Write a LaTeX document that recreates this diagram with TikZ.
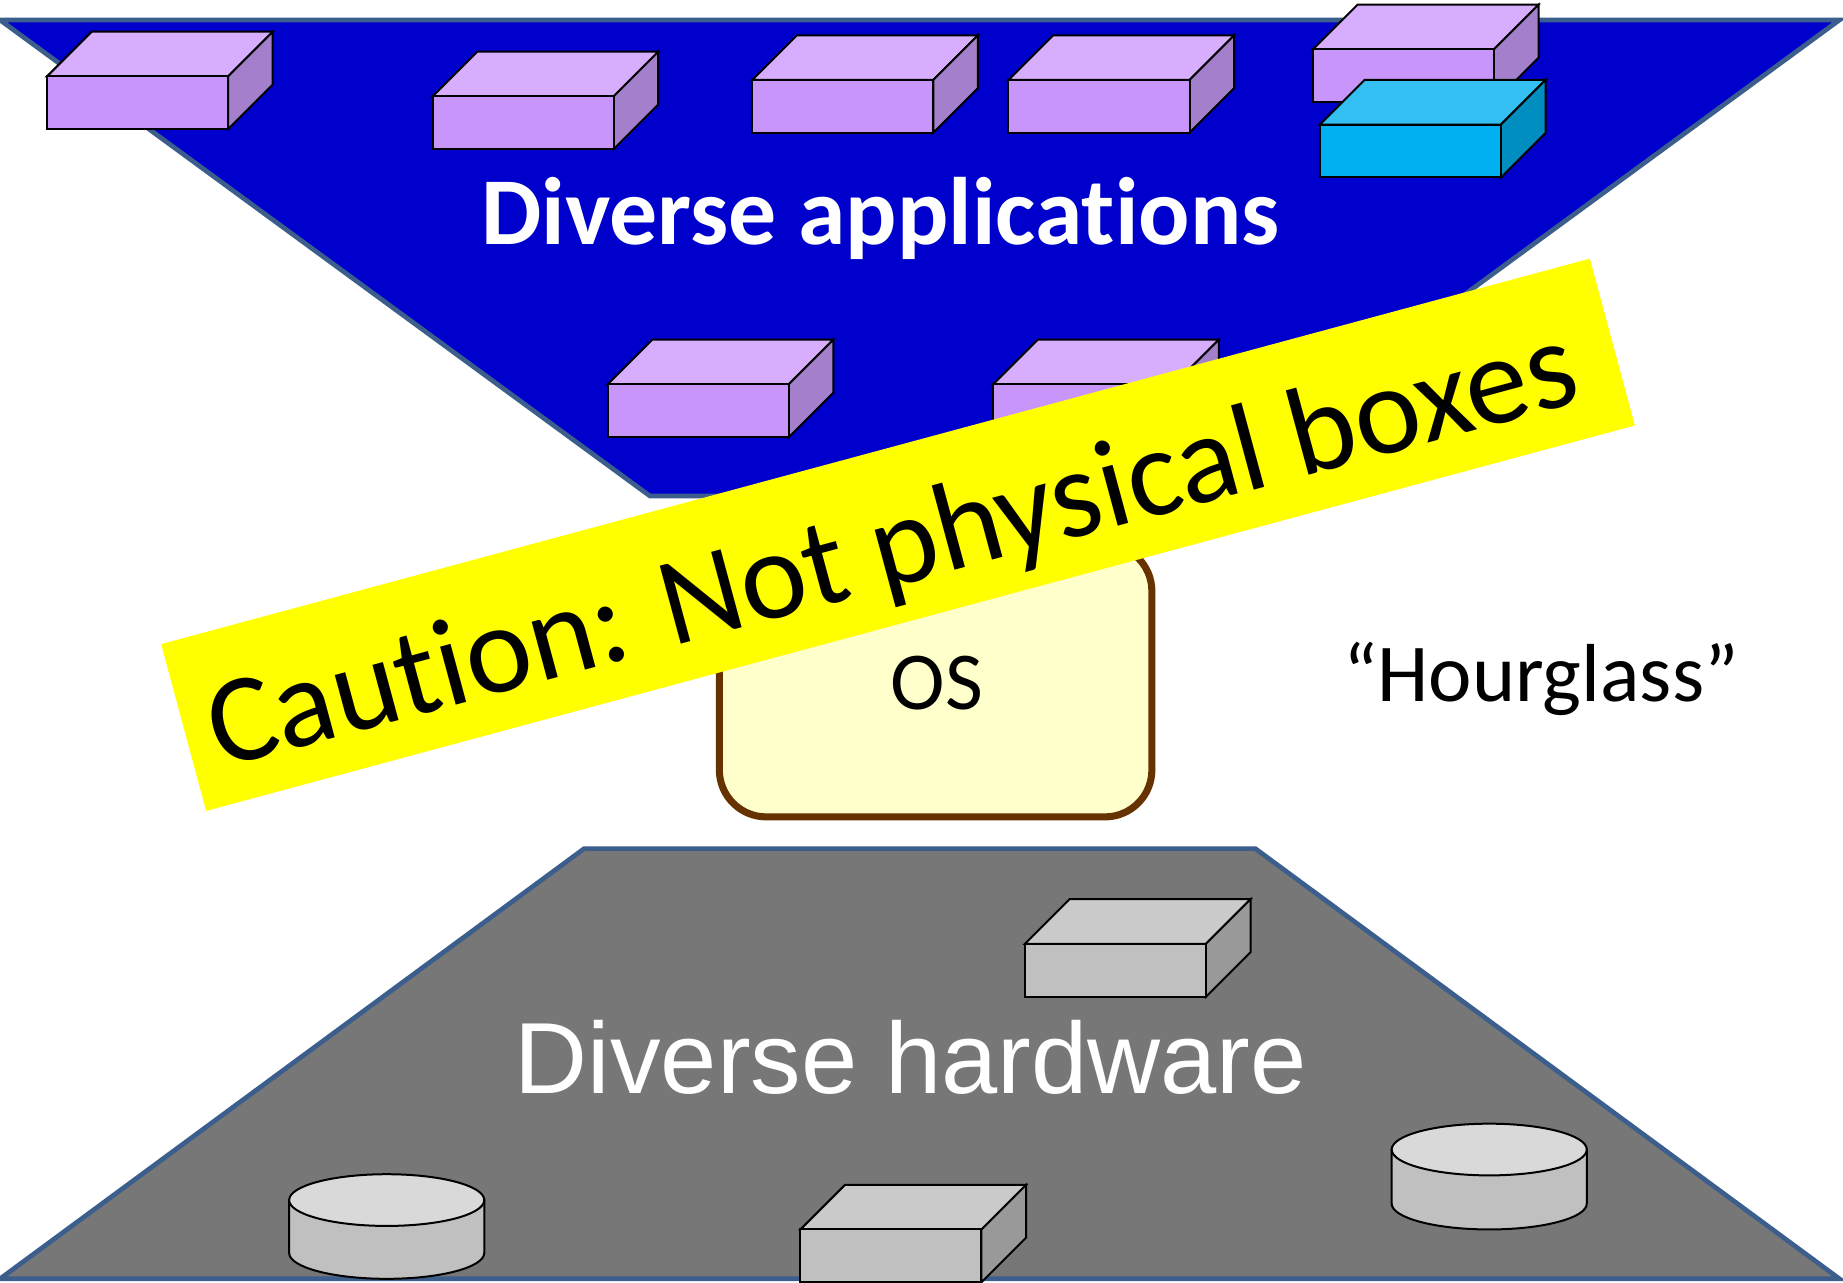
\documentclass[tikz,border=0pt]{standalone}
\usepackage{fontspec}
\setmainfont{Carlito}[Ligatures=NoCommon]
\newfontfamily\arialf{Liberation Sans}
\definecolor{appblue}{HTML}{0000CC}
\definecolor{rimblue}{HTML}{3B5E8C}
\definecolor{hwgray}{HTML}{777777}
\definecolor{lavfront}{HTML}{C896FA}
\definecolor{lavtop}{HTML}{D7ADFE}
\definecolor{lavside}{HTML}{A37FCC}
\definecolor{cyfront}{HTML}{00B0F0}
\definecolor{cytop}{HTML}{33BFF2}
\definecolor{cyside}{HTML}{008EC1}
\definecolor{gfront}{HTML}{C0C0C0}
\definecolor{gtop}{HTML}{CACACA}
\definecolor{gside}{HTML}{999999}
\definecolor{cyltop}{HTML}{D9D9D9}
\definecolor{oscream}{HTML}{FFFFCC}
\definecolor{osbrown}{HTML}{663300}
\definecolor{cautionyellow}{HTML}{FFFF00}

% a 3-D box: front top-left corner (#1,#2), then front, top and side fills
\newcommand\Cuboid[5]{%
  \filldraw[boxline,fill=#4] (#1,#2) -- ++(38,-38) -- ++(154,0) -- ++(-38,38) -- cycle;
  \filldraw[boxline,fill=#5] (#1+154,#2) -- ++(38,-38) -- ++(0,45) -- ++(-38,38) -- cycle;
  \filldraw[boxline,fill=#3] (#1,#2) rectangle ++(154,45);
}
% a disk drum: centre x #1, top ellipse centre y #2, bottom ellipse centre y #3
\newcommand\Drum[3]{%
  \filldraw[boxline,fill=gfront] (#1-83,#2) -- (#1-83,#3)
     arc[start angle=180,end angle=0,x radius=83,y radius=22] -- (#1+83,#2) -- cycle;
  \filldraw[boxline,fill=cyltop] (#1,#2) ellipse[x radius=83,y radius=22];
}

\begin{document}
\begin{tikzpicture}[x=1pt,y=-1pt,
  boxline/.style={draw=black,line width=1.7pt,line join=miter},
  layer/.style={draw=rimblue,line width=4pt,line join=miter}]
\useasboundingbox (0,0) rectangle (1568,1091);

% applications layer
\filldraw[layer,fill=appblue] (0,17) -- (1565,17) -- (1012,422) -- (553,422) -- cycle;
\Cuboid{40}{65}{lavfront}{lavtop}{lavside}
\Cuboid{368}{82}{lavfront}{lavtop}{lavside}
\Cuboid{640}{68}{lavfront}{lavtop}{lavside}
\Cuboid{858}{68}{lavfront}{lavtop}{lavside}
\Cuboid{1117}{42}{lavfront}{lavtop}{lavside}
\Cuboid{1123}{106}{cyfront}{cytop}{cyside}
\Cuboid{517}{327}{lavfront}{lavtop}{lavside}
\Cuboid{845}{327}{lavfront}{lavtop}{lavside}
\node[anchor=base,text=white,font=\bfseries\fontsize{81.5}{81.5}\selectfont] (apps) at (749,208) {Diverse applications};

% hardware layer
\filldraw[layer,fill=hwgray] (497,722) -- (1068,722) -- (1565,1088) -- (0,1088) -- cycle;
\Cuboid{872}{803}{gfront}{gtop}{gside}
\Cuboid{681}{1046}{gfront}{gtop}{gside}
\Drum{329}{1021}{1066}
\Drum{1267}{978}{1024}
\node[anchor=base,text=white,font=\arialf\fontsize{86}{86}\selectfont] (hw) at (775,930) {Diverse hardware};

% the narrow waist
\filldraw[draw=osbrown,fill=oscream,line width=6pt,rounded corners=40pt] (612,463) rectangle (980,695);
\node[anchor=base,font=\fontsize{70}{70}\selectfont] (os) at (797,604) {OS};
\node[anchor=base,font=\fontsize{70}{70}\selectfont] (hg) at (1311,597) {“Hourglass”};

% caution banner
\node[fill=cautionyellow,rotate=15.1,minimum width=1259pt,minimum height=147pt,inner sep=0pt] (banner) at (764,455) {};
\node[rotate=15.1,font=\fontsize{107}{107}\selectfont] (caution) at (760,470) {Caution: Not physical boxes};
\end{tikzpicture}
\end{document}
